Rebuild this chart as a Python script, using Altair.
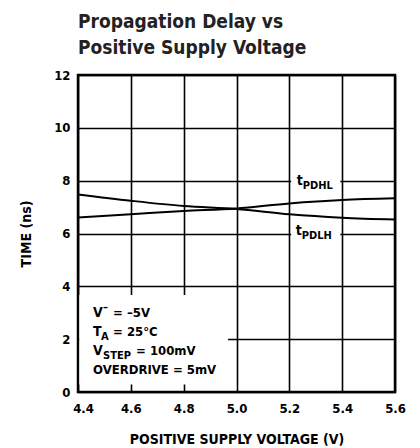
import altair as alt
import pandas as pd

# Propagation delay vs positive supply voltage
supply_v = [4.4, 4.6, 4.8, 5.0, 5.2, 5.4, 5.6]
t_pdhl = [6.61, 6.73, 6.85, 6.95, 7.14, 7.27, 7.33]
t_pdlh = [7.48, 7.24, 7.04, 6.93, 6.73, 6.60, 6.53]

x_ticks = [4.4, 4.6, 4.8, 5.0, 5.2, 5.4, 5.6]
y_ticks = [0, 2, 4, 6, 8, 10, 12]

title_lines = ["Propagation Delay vs", "Positive Supply Voltage"]
x_title = "POSITIVE SUPPLY VOLTAGE (V)"
y_title = "TIME (ns)"

FONT = "DejaVu Sans Condensed, Liberation Sans, sans-serif"

curves = pd.DataFrame({
    "v": supply_v * 2,
    "t": t_pdhl + t_pdlh,
    "series": ["tPDHL"] * len(supply_v) + ["tPDLH"] * len(supply_v),
})

x_scale = alt.Scale(domain=[4.4, 5.6], nice=False, zero=False)
y_scale = alt.Scale(domain=[0, 12], nice=False)
x_axis = alt.Axis(
    values=x_ticks, format=".1f", title=x_title,
    labelFlush=False,
    labelOffset={"condition": {"test": "datum.value < 4.5", "value": 5}, "value": 0},
    labelPadding=10, titlePadding=17,
)
y_axis = alt.Axis(values=y_ticks, title=y_title, labelPadding=8, titlePadding=20)


def xenc(field="v:Q"):
    return alt.X(field, scale=x_scale, axis=x_axis)


def yenc(field="t:Q"):
    return alt.Y(field, scale=y_scale, axis=y_axis)


lines = alt.Chart(curves).mark_line(
    color="black", strokeWidth=2, interpolate="monotone"
).encode(x=xenc(), y=yenc(), detail="series:N")

# white panels that clear the grid behind the annotations
masks = pd.DataFrame({
    "v": [4.405, 5.207, 5.207],
    "v2": [4.968, 5.393, 5.393],
    "t": [0.28, 7.55, 5.72],
    "t2": [3.67, 8.30, 6.45],
})
mask_layer = alt.Chart(masks).mark_rect(color="white").encode(
    x=xenc(), x2="v2:Q", y=yenc(), y2="t2:Q"
)


def piece(text, x, y, size=13, dx=0, dy=0):
    df = pd.DataFrame({"v": [x], "t": [y], "s": [text]})
    return alt.Chart(df).mark_text(
        align="left", baseline="middle", font=FONT, fontWeight="bold",
        fontSize=size, dx=dx, dy=dy, color="black",
    ).encode(x=xenc(), y=yenc(), text="s:N")


nx = 4.457
texts = [
    # curve labels
    piece("t", 5.228, 8.0, size=14),
    piece("PDHL", 5.228, 8.0, size=11, dx=6, dy=5),
    piece("t", 5.224, 6.0, size=14, dy=-3),
    piece("PDLH", 5.224, 6.0, size=11, dx=6, dy=2),
    # test conditions
    piece("V", nx, 2.99, size=14),
    piece("\u2013", nx, 2.99, size=11, dx=10, dy=-5),
    piece("= \u20135V", nx, 2.99, dx=20),
    piece("T", nx, 2.27, size=14),
    piece("A", nx, 2.27, size=11, dx=8, dy=5),
    piece("= 25\u00b0C", nx, 2.27, dx=20),
    piece("V", nx, 1.55, size=14),
    piece("STEP", nx, 1.55, size=11, dx=10, dy=5),
    piece("= 100mV", nx, 1.55, dx=43),
    piece("OVERDRIVE = 5mV", nx, 0.83),
]

chart = alt.layer(mask_layer, lines, *texts).properties(
    width=317,
    height=317,
    autosize=alt.AutoSizeParams(type="none"),
    padding={"left": 78, "top": 75, "right": 25, "bottom": 56},
    title=alt.TitleParams(
        title_lines, anchor="start", frame="group", fontSize=19, font=FONT,
        fontWeight="bold", color="#222222", lineHeight=26, offset=11,
    ),
).configure(background="white").configure_view(
    stroke="black", strokeWidth=2.5
).configure_axis(
    grid=True, gridColor="black", gridWidth=1.6, gridOpacity=1,
    domain=False, ticks=False,
    labelFont=FONT, labelFontSize=13, labelFontWeight="bold", labelColor="black",
    titleFont=FONT, titleFontSize=14, titleFontWeight="bold", titleColor="black",
)

chart.save("out.html", embed_options={"renderer": "svg", "actions": False})
